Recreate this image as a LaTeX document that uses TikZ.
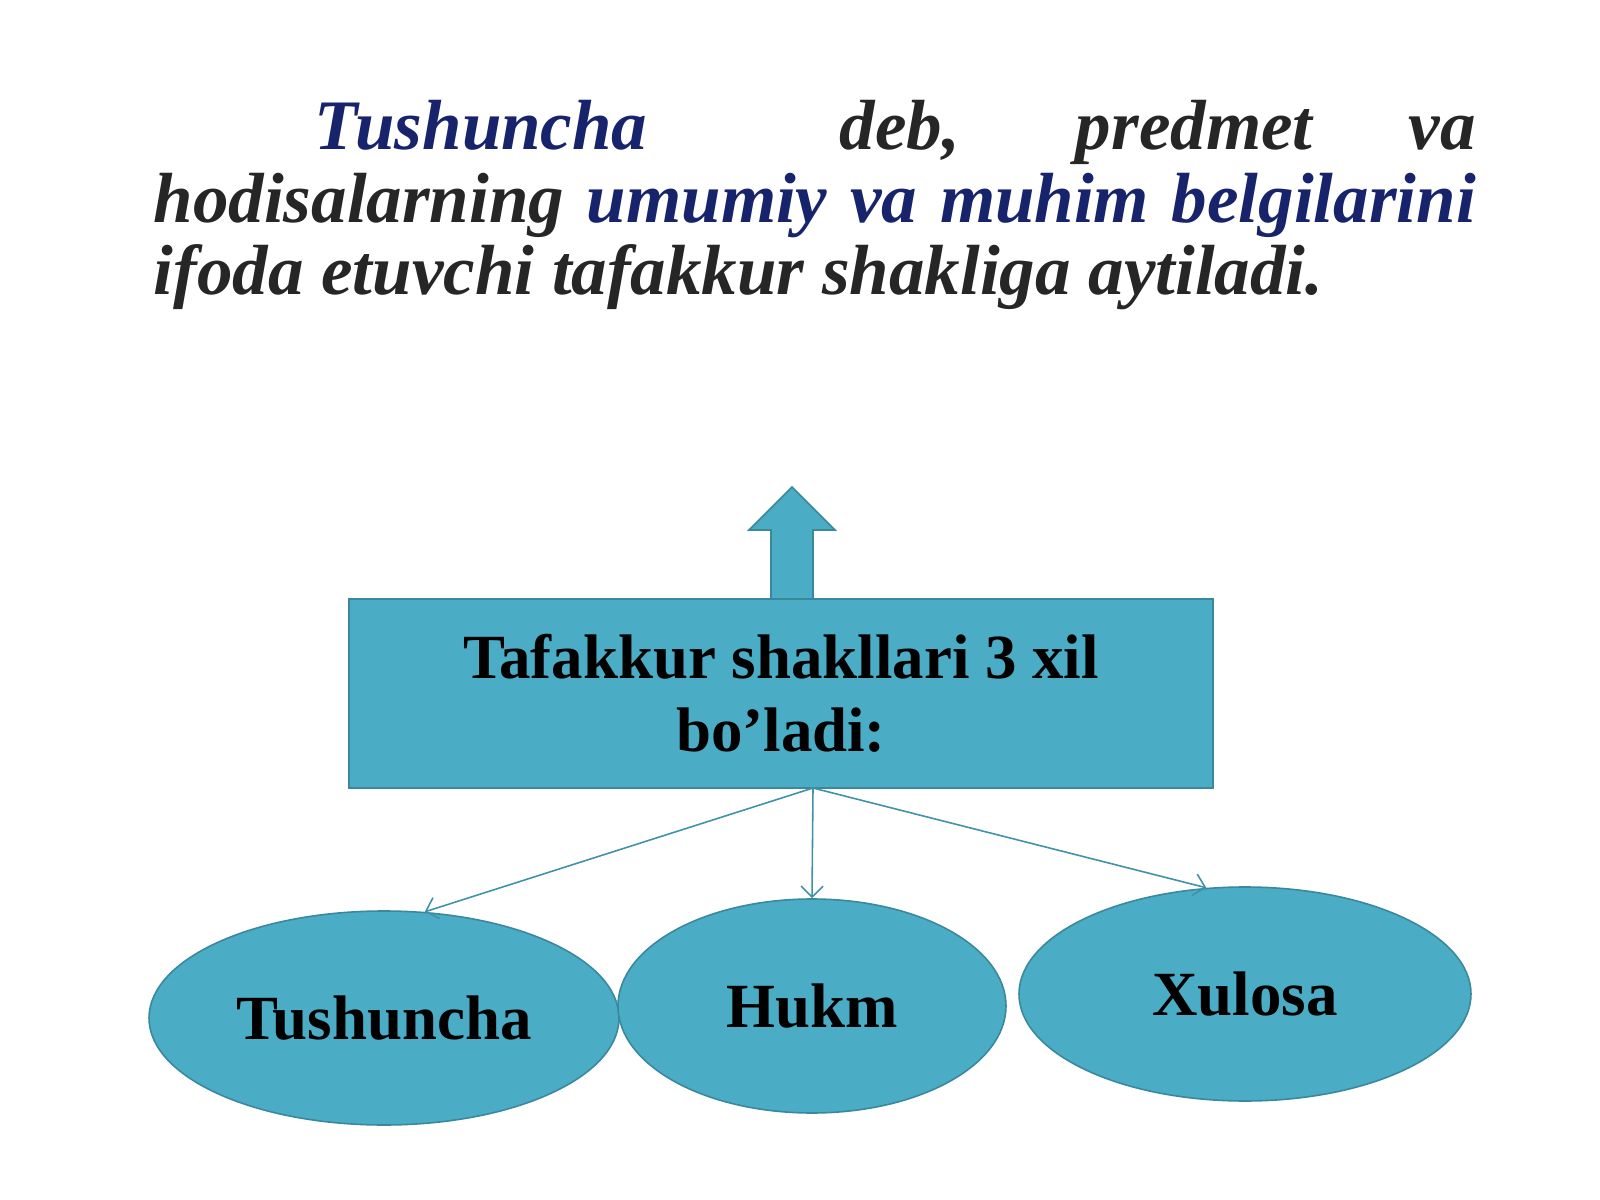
\documentclass[tikz,border=0pt]{standalone}
\usepackage{fontspec}
\setmainfont{Liberation Serif}
\usetikzlibrary{shapes.geometric,arrows.meta}

\begin{document}
\begin{tikzpicture}[x=0.1mm, y=-0.1mm]


\def\lineWidth{0.45pt}
\def\headSize{20.2}
\def\formSize{17.9}
\def\textW{132.2mm}
\def\indentW{16.1mm}
\definecolor{tealfill}{RGB}{75,172,198}
\definecolor{tealline}{RGB}{58,136,158}
\definecolor{darkblue}{RGB}{23,36,107}
\definecolor{darktext}{RGB}{38,38,38}

\tikzset{
  headline/.style={anchor=base west, inner sep=0pt, text=darktext, font=\fontsize{\headSize}{21}\selectfont\bfseries\itshape},
  form/.style={ellipse, draw=tealline, fill=tealfill, line width=\lineWidth, inner sep=0pt, minimum height=21.4mm, font=\fontsize{\formSize}{21}\selectfont\bfseries},
  link/.style={draw=tealfill!85!black, line width=\lineWidth, -{Straight Barb[length=1.1mm, width=2.2mm]}}
}

\useasboundingbox[fill=white] (0,0) rectangle (1600,1200);

\coordinate (split) at (813,788);


%TEXT

\node[headline] (line-1) at (153,150) {\makebox[\textW][s]{\hspace*{\indentW}\textcolor{darkblue}{Tushuncha}\ \ deb, predmet va}};
\node[headline] (line-2) at (153,223) {\makebox[\textW][s]{hodisalarning \textcolor{darkblue}{umumiy va muhim belgilarini}}};
\node[headline] (line-3) at (153,295) {ifoda etuvchi tafakkur shakliga aytiladi.};


%DRAW

\draw[fill=tealfill, draw=tealline, line width=\lineWidth] (771,599) -- (771,530) -- (749,530) -- (792,487) -- (835,530) -- (813,530) -- (813,599) -- cycle;

\node[rectangle, draw=tealline, fill=tealfill, line width=\lineWidth, minimum width=86.4mm, minimum height=18.9mm, align=center, font=\fontsize{\formSize}{20.8}\selectfont\bfseries] (forms) at (781,693.5) {Tafakkur shakllari 3 xil\\bo’ladi:};

\node[form, minimum width=47mm] (tushuncha) at (384,1018) {Tushuncha};
\node[form, minimum width=38.8mm] (hukm) at (812,1006) {Hukm};
\node[form, minimum width=45.2mm] (xulosa) at (1245,994) {Xulosa};

\draw[link] (split) -- (tushuncha.69);
\draw[link] (split) -- (hukm.north);
\draw[link] (split) -- (xulosa.110);


\end{tikzpicture}
\end{document}
